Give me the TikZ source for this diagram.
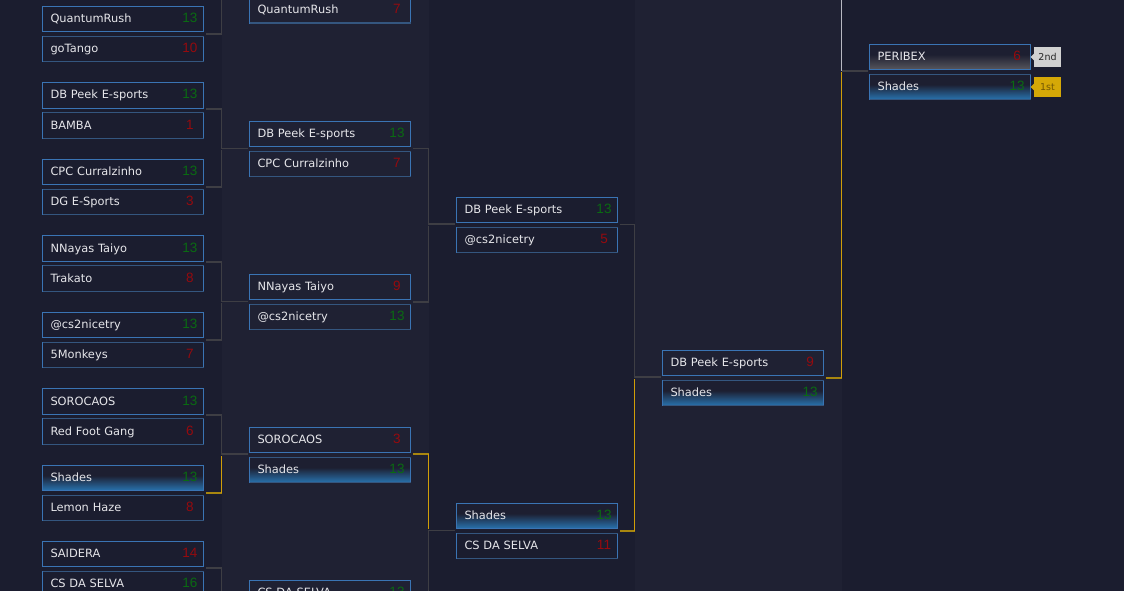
\documentclass[tikz,border=0pt]{standalone}
\usepackage{fontspec}
\setmainfont{DejaVu Sans}
\newfontfamily\scorefont{Liberation Sans}
\definecolor{pagedark}{HTML}{1B1D2F}
\definecolor{bandlight}{HTML}{1F2133}
\definecolor{shadetop}{HTML}{1D1F31}
\definecolor{boxedge}{HTML}{3A74B4}
\definecolor{boxsoft}{HTML}{34567F}
\definecolor{linkdim}{HTML}{3E3E44}
\definecolor{linkgold}{HTML}{D09E08}
\definecolor{stubgold}{HTML}{A8860F}
\definecolor{linklight}{HTML}{B8B8C2}
\definecolor{scorewon}{HTML}{0A6A12}
\definecolor{scorelost}{HTML}{950A0E}
\definecolor{teamtext}{HTML}{E6E6EA}
\definecolor{winblue}{HTML}{2870AA}
\definecolor{lossgray}{HTML}{56555C}
\pgfdeclareverticalshading{winnerblue}{100bp}{color(0bp)=(winblue); color(26bp)=(winblue); color(55bp)=(shadetop); color(100bp)=(shadetop)}
\pgfdeclareverticalshading{runnergray}{100bp}{color(0bp)=(lossgray); color(26bp)=(lossgray); color(55bp)=(shadetop); color(100bp)=(shadetop)}
\newcommand{\won}[1]{\hfill\makebox[11pt]{\scorefont\fontsize{13.5pt}{13pt}\selectfont\color{scorewon}#1}}
\newcommand{\lost}[1]{\hfill\makebox[11pt]{\scorefont\fontsize{13.5pt}{13pt}\selectfont\color{scorelost}#1}}
\tikzset{
	teambox/.style={draw=boxedge, line width=1.25pt, anchor=west, outer sep=0pt, inner xsep=8pt, inner ysep=0pt,
		minimum height=25pt, text width=145pt, align=left, text=teamtext, text height=9pt, text depth=2pt,
		font=\fontsize{11.4pt}{13pt}\selectfont},
	tallbox/.style={minimum height=26pt},
	softedge/.style={draw=boxsoft, line width=1.8pt},
	lowerbox/.style={teambox, append after command={(\tikzlastnode.north west) edge[softedge] (\tikzlastnode.north east)
		(\tikzlastnode.south west) edge[softedge] (\tikzlastnode.south east)}},
	winner/.style={shade, shading=winnerblue},
	runner/.style={shade, shading=runnergray},
	link/.style={draw=linkdim, line width=1.3pt, shorten <=2.5pt, shorten >=1.5pt},
	goldlink/.style={link, draw=linkgold, shorten <=0pt, shorten >=0pt},
	goldstub/.style={link, draw=stubgold, shorten >=0pt},
	placebadge/.style={anchor=center, outer sep=0pt, inner sep=0pt, minimum width=27pt, minimum height=20pt,
		font=\fontsize{9.5pt}{11pt}\selectfont},
}
\begin{document}
\begin{tikzpicture}[x=1pt, y=-1pt]
	\useasboundingbox (0,0) rectangle (1124,591);
	\clip (0,0) rectangle (1124,591);
	% page and round bands
	\fill[pagedark] (0,0) rectangle (1124,591);
	\fill[bandlight] (222,0) rectangle (429,591);
	\fill[bandlight] (635,0) rectangle (842,591);

	% first round
	\node[teambox] (rushA) at (42.5,19) {QuantumRush\won{13}};
	\node[lowerbox] (tango) at (42.5,49) {goTango\lost{10}};
	\node[teambox, tallbox] (peekA) at (42.5,95.5) {DB Peek E-sports\won{13}};
	\node[lowerbox, tallbox] (bamba) at (42.5,125.5) {BAMBA\lost{1}};
	\node[teambox] (cpcA) at (42.5,172) {CPC Curralzinho\won{13}};
	\node[lowerbox] (dgesports) at (42.5,202) {DG E-Sports\lost{3}};
	\node[teambox, tallbox] (nayasA) at (42.5,248.5) {NNayas Taiyo\won{13}};
	\node[lowerbox, tallbox] (trakato) at (42.5,278.5) {Trakato\lost{8}};
	\node[teambox] (niceA) at (42.5,325) {@cs2nicetry\won{13}};
	\node[lowerbox] (monkeys) at (42.5,355) {5Monkeys\lost{7}};
	\node[teambox, tallbox] (soroA) at (42.5,401.5) {SOROCAOS\won{13}};
	\node[lowerbox, tallbox] (redfoot) at (42.5,431.5) {Red Foot Gang\lost{6}};
	\node[teambox, winner] (shadesA) at (42.5,478) {Shades\won{13}};
	\node[lowerbox] (lemon) at (42.5,508) {Lemon Haze\lost{8}};
	\node[teambox] (saidera) at (42.5,554) {SAIDERA\lost{14}};
	\node[lowerbox] (selvaA) at (42.5,584) {CS DA SELVA\won{16}};

	% second round
	\node[lowerbox] (rushB) at (249.5,10.5) {QuantumRush\lost{7}};
	\node[teambox] (peekB) at (249.5,134) {DB Peek E-sports\won{13}};
	\node[lowerbox] (cpcB) at (249.5,164) {CPC Curralzinho\lost{7}};
	\node[teambox] (nayasB) at (249.5,287) {NNayas Taiyo\lost{9}};
	\node[lowerbox] (niceB) at (249.5,317) {@cs2nicetry\won{13}};
	\node[teambox] (soroB) at (249.5,440) {SOROCAOS\lost{3}};
	\node[lowerbox, winner] (shadesB) at (249.5,470) {Shades\won{13}};
	\node[teambox] (selvaB) at (249.5,593) {CS DA SELVA\won{13}};

	% third round
	\node[teambox] (peekC) at (456.5,210) {DB Peek E-sports\won{13}};
	\node[lowerbox] (niceC) at (456.5,240) {@cs2nicetry\lost{5}};
	\node[teambox, winner] (shadesC) at (456.5,516) {Shades\won{13}};
	\node[lowerbox] (selvaC) at (456.5,546) {CS DA SELVA\lost{11}};

	% semifinal
	\node[teambox] (peekD) at (662.5,363) {DB Peek E-sports\lost{9}};
	\node[lowerbox, winner] (shadesD) at (662.5,393) {Shades\won{13}};

	% final
	\node[teambox, runner] (peribex) at (869.5,57) {PERIBEX\lost{6}};
	\node[lowerbox, winner] (shadesE) at (869.5,87) {Shades\won{13}};

	% place badges
	\node[placebadge, fill=black!18, text=black!85] (second) at (1047.5,57) {2nd};
	\node[placebadge, fill=linkgold!90!yellow, text=black!45!linkgold] (first) at (1047.5,87) {1st};
	\fill[black!18] ([yshift=3.5pt]second.west) -- ++(-3.5,3.5) -- ++(3.5,3.5) -- cycle;
	\fill[linkgold!90!yellow] ([yshift=3.5pt]first.west) -- ++(-3.5,3.5) -- ++(3.5,3.5) -- cycle;

	% bends of the first round
	\coordinate (rushbend) at (221.5,34);
	\coordinate (rushtop) at (221.5,0);
	\coordinate (peekbend) at (221.5,109);
	\coordinate (cpcbend) at (221.5,187);
	\coordinate (peekjoin) at (221.5,148.5);
	\coordinate (cpcjoin) at (221.5,150);
	\coordinate (nayasbend) at (221.5,262);
	\coordinate (nicebend) at (221.5,340);
	\coordinate (nayasjoin) at (221.5,301.5);
	\coordinate (nicejoin) at (221.5,303);
	\coordinate (sorobend) at (221.5,415);
	\coordinate (shadesbend) at (221.5,493);
	\coordinate (sorojoin) at (221.5,454);
	\coordinate (shadesjoin) at (221.5,456);
	\coordinate (saiderabend) at (221.5,568);
	\coordinate (saiderabottom) at (221.5,591);

	% links out of the first round
	\draw[link, shorten >=0pt] (rushA.east |- rushbend) -- (rushbend) -- (rushtop);
	\draw[link] (peekA.east |- peekbend) -- (peekbend) -- (peekjoin) -- (peekjoin -| peekB.west);
	\draw[link, shorten >=0pt] (cpcA.east |- cpcbend) -- (cpcbend) -- (cpcjoin);
	\draw[link] (nayasA.east |- nayasbend) -- (nayasbend) -- (nayasjoin) -- (nayasjoin -| nayasB.west);
	\draw[link, shorten >=0pt] (niceA.east |- nicebend) -- (nicebend) -- (nicejoin);
	\draw[link] (soroA.east |- sorobend) -- (sorobend) -- (sorojoin) -- (sorojoin -| soroB.west);
	\draw[goldstub] (shadesA.east |- shadesbend) -- (shadesbend);
	\draw[goldlink] (shadesbend) -- (shadesjoin);
	\draw[link, shorten >=0pt] (saidera.east |- saiderabend) -- (saiderabend) -- (saiderabottom);

	% bends of the second round
	\coordinate (peekout) at (428.5,148.5);
	\coordinate (peekin) at (428.5,224);
	\coordinate (niceout) at (428.5,302);
	\coordinate (nicein) at (428.5,225.5);
	\coordinate (shadesout) at (428.5,454);
	\coordinate (shadesin) at (428.5,529);
	\coordinate (selvain) at (428.5,530.5);
	\coordinate (selvabottom) at (428.5,591);

	% links out of the second round
	\draw[link] (peekB.east |- peekout) -- (peekout) -- (peekin) -- (peekin -| peekC.west);
	\draw[link, shorten >=0pt] (nayasB.east |- niceout) -- (niceout) -- (nicein);
	\draw[goldstub] (soroB.east |- shadesout) -- (shadesout);
	\draw[goldlink] (shadesout) -- (shadesin);
	\draw[link, shorten <=0pt] (selvabottom) -- (selvain) -- (selvain -| selvaC.west);

	% bends of the third round
	\coordinate (peekturn) at (634.5,224.5);
	\coordinate (peekland) at (634.5,377);
	\coordinate (shadesturn) at (634.5,531);
	\coordinate (shadesland) at (634.5,378.5);

	% links out of the third round
	\draw[link] (peekC.east |- peekturn) -- (peekturn) -- (peekland) -- (peekland -| peekD.west);
	\draw[goldstub] (shadesC.east |- shadesturn) -- (shadesturn);
	\draw[goldlink] (shadesturn) -- (shadesland);

	% links into the final
	\coordinate (finalturn) at (841.5,378);
	\coordinate (finalland) at (841.5,72.5);
	\coordinate (finalmeet) at (841.5,71);
	\coordinate (finaltop) at (841.5,0);
	\draw[goldstub] (peekD.east |- finalturn) -- (finalturn);
	\draw[goldlink] (finalturn) -- (finalland);
	\draw[link, draw=linklight, line width=1pt, shorten <=0pt, shorten >=0pt] (finaltop) -- (finalmeet);
	\draw[link, shorten <=0pt] (finalmeet) -- (finalmeet -| peribex.west);
\end{tikzpicture}
\end{document}
